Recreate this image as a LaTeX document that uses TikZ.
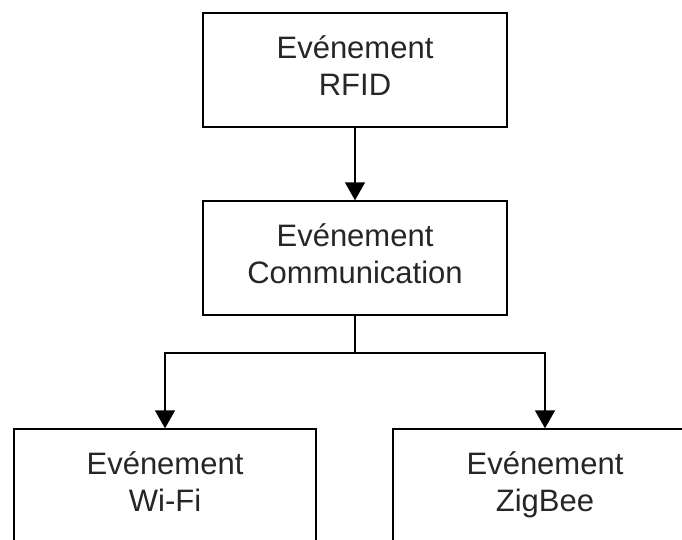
\documentclass[tikz,border=0pt]{standalone}
\usepackage{fontspec}
\setmainfont{Liberation Sans}
\usetikzlibrary{arrows.meta}
\begin{document}
\begin{tikzpicture}[x=1pt,y=-1pt,
  box/.style={draw=black, line width=1.4pt, minimum width=304pt, minimum height=114pt,
    inner sep=0pt, align=center, font=\fontsize{31}{37}\selectfont, text=black!85},
  link/.style={draw=black, line width=1.4pt, -{Triangle[width=20pt,length=18pt]}},
  line/.style={draw=black, line width=1.4pt}]
\useasboundingbox (0,0) rectangle (682,539);
\clip (0,0) rectangle (682,539);
\node[box] (rfid) at (355,70) {\strut Evénement\\\strut RFID};
\node[box] (comm) at (355,258) {\strut Evénement\\\strut Communication};
\node[box, minimum width=302pt] (wifi) at (165,486) {\strut Evénement\\\strut Wi-Fi};
\node[box] (zig) at (545,486) {\strut Evénement\\\strut ZigBee};
\coordinate (split) at (355,353);
\draw[link] (rfid) -- (comm);
\draw[line] (comm.south) -- (split);
\draw[link] (split) -| (wifi.north);
\draw[link] (split) -| (zig.north);
\end{tikzpicture}
\end{document}
